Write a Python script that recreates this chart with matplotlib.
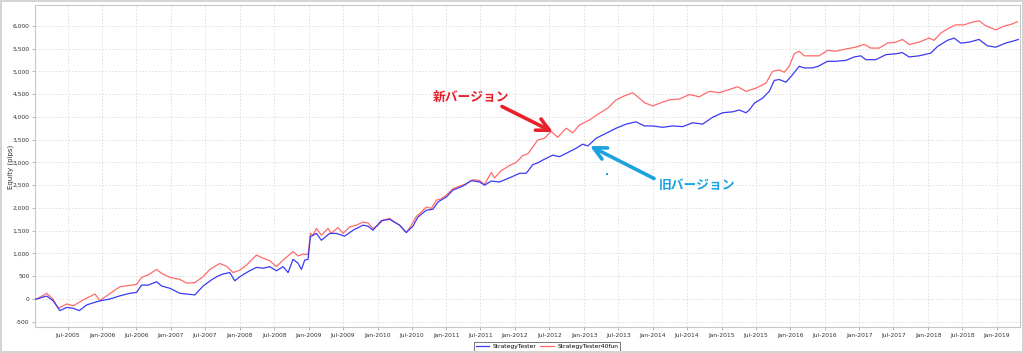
import datetime as dt
import matplotlib
matplotlib.use("Agg")
import matplotlib.pyplot as plt
import matplotlib.dates as mdates
from matplotlib.ticker import FuncFormatter, MultipleLocator
from matplotlib.patches import Rectangle

# ---- data (decimal year, equity in pips) ----
old_years = [2005.000, 2005.048, 2005.193, 2005.284, 2005.386, 2005.483, 2005.579, 2005.666, 2005.774,
             2005.919, 2005.991, 2006.112, 2006.257, 2006.402, 2006.499, 2006.572, 2006.668, 2006.790,
             2006.862, 2006.983, 2007.128, 2007.225, 2007.345, 2007.466, 2007.587, 2007.683, 2007.756,
             2007.853, 2007.926, 2007.999, 2008.119, 2008.241, 2008.337, 2008.434, 2008.531, 2008.627,
             2008.700, 2008.772, 2008.845, 2008.894, 2008.942, 2008.990, 2009.025, 2009.112, 2009.184,
             2009.305, 2009.402, 2009.522, 2009.643, 2009.788, 2009.861, 2009.933, 2010.055, 2010.176,
             2010.321, 2010.418, 2010.514, 2010.587, 2010.708, 2010.804, 2010.877, 2010.999, 2011.094,
             2011.240, 2011.361, 2011.482, 2011.555, 2011.652, 2011.772, 2011.917, 2012.063, 2012.160,
             2012.255, 2012.328, 2012.400, 2012.546, 2012.643, 2012.788, 2012.885, 2012.981, 2013.054,
             2013.176, 2013.321, 2013.466, 2013.611, 2013.756, 2013.877, 2013.997, 2014.142, 2014.287,
             2014.432, 2014.578, 2014.723, 2014.868, 2015.013, 2015.158, 2015.255, 2015.353, 2015.401,
             2015.474, 2015.594, 2015.691, 2015.764, 2015.836, 2015.933, 2016.029, 2016.126, 2016.199,
             2016.319, 2016.402, 2016.537, 2016.659, 2016.804, 2016.925, 2017.022, 2017.094, 2017.239,
             2017.384, 2017.530, 2017.626, 2017.723, 2017.868, 2018.038, 2018.135, 2018.280, 2018.377,
             2018.473, 2018.594, 2018.739, 2018.859, 2018.981, 2019.126, 2019.271, 2019.309]
old_equity = [0, 0, 65, -35, -255, -185, -205, -255, -130,
              -60, -35, 0, 70, 125, 145, 305, 305, 380,
              285, 235, 125, 110, 90, 285, 420, 505, 550,
              580, 400, 490, 600, 695, 675, 710, 620, 710,
              580, 870, 785, 650, 855, 870, 1370, 1440, 1290,
              1440, 1440, 1380, 1510, 1620, 1600, 1510, 1720, 1750,
              1620, 1460, 1600, 1800, 1950, 1970, 2130, 2240, 2390,
              2480, 2600, 2570, 2500, 2590, 2570, 2660, 2760, 2760,
              2950, 2990, 3050, 3160, 3125, 3235, 3310, 3400, 3360,
              3530, 3640, 3750, 3840, 3890, 3800, 3800, 3770, 3800,
              3785, 3870, 3840, 3990, 4090, 4110, 4150, 4090, 4150,
              4300, 4410, 4560, 4800, 4820, 4760, 4925, 5110, 5075,
              5075, 5110, 5220, 5220, 5240, 5315, 5340, 5255, 5255,
              5365, 5385, 5410, 5315, 5340, 5400, 5545, 5680, 5730,
              5620, 5640, 5700, 5560, 5530, 5620, 5680, 5700]

new_years = [2005.000, 2005.048, 2005.193, 2005.284, 2005.361, 2005.483, 2005.579, 2005.724, 2005.894,
             2005.967, 2006.112, 2006.257, 2006.402, 2006.499, 2006.572, 2006.668, 2006.790, 2006.862,
             2006.983, 2007.128, 2007.225, 2007.345, 2007.466, 2007.563, 2007.708, 2007.806, 2007.901,
             2007.999, 2008.096, 2008.241, 2008.337, 2008.434, 2008.531, 2008.627, 2008.772, 2008.845,
             2008.917, 2008.990, 2009.025, 2009.063, 2009.112, 2009.184, 2009.280, 2009.329, 2009.425,
             2009.498, 2009.595, 2009.692, 2009.788, 2009.861, 2009.933, 2010.006, 2010.078, 2010.176,
             2010.248, 2010.321, 2010.418, 2010.491, 2010.563, 2010.636, 2010.708, 2010.781, 2010.853,
             2010.926, 2010.999, 2011.094, 2011.192, 2011.289, 2011.385, 2011.482, 2011.555, 2011.652,
             2011.700, 2011.797, 2011.917, 2012.015, 2012.110, 2012.183, 2012.255, 2012.328, 2012.425,
             2012.522, 2012.618, 2012.740, 2012.836, 2012.933, 2013.078, 2013.224, 2013.344, 2013.466,
             2013.586, 2013.707, 2013.780, 2013.877, 2013.997, 2014.119, 2014.240, 2014.385, 2014.530,
             2014.675, 2014.820, 2014.965, 2015.086, 2015.231, 2015.353, 2015.498, 2015.643, 2015.739,
             2015.836, 2015.909, 2015.981, 2016.054, 2016.126, 2016.199, 2016.319, 2016.416, 2016.537,
             2016.659, 2016.804, 2016.949, 2017.070, 2017.167, 2017.287, 2017.408, 2017.530, 2017.626,
             2017.723, 2017.868, 2018.013, 2018.086, 2018.183, 2018.304, 2018.401, 2018.521, 2018.618,
             2018.739, 2018.836, 2018.981, 2019.102, 2019.222, 2019.295]
new_equity = [0, 0, 125, 0, -205, -110, -150, -20, 110,
              -35, 120, 270, 300, 320, 475, 530, 650, 565,
              475, 430, 350, 360, 490, 650, 780, 720, 580,
              635, 745, 965, 895, 840, 710, 855, 1040, 945,
              985, 980, 1440, 1400, 1550, 1400, 1550, 1440, 1570,
              1440, 1585, 1620, 1690, 1670, 1550, 1620, 1730, 1770,
              1690, 1620, 1460, 1620, 1810, 1910, 2020, 1990, 2170,
              2200, 2280, 2420, 2480, 2530, 2620, 2600, 2515, 2780,
              2660, 2820, 2930, 3000, 3150, 3190, 3340, 3490, 3530,
              3680, 3550, 3750, 3650, 3820, 3930, 4080, 4190, 4375,
              4460, 4530, 4440, 4310, 4240, 4310, 4375, 4390, 4490,
              4440, 4560, 4530, 4590, 4660, 4560, 4630, 4740, 5000,
              5030, 4980, 5110, 5385, 5440, 5340, 5340, 5340, 5460,
              5440, 5490, 5530, 5590, 5510, 5510, 5620, 5640, 5700,
              5590, 5640, 5730, 5680, 5840, 5950, 6020, 6020, 6070,
              6110, 6000, 5910, 5990, 6040, 6090]

series_names = ["StrategyTester", "StrategyTester40fun"]
y_label = "Equity (pips)"
new_label = "新バージョン"
old_label = "旧バージョン"


def to_date(y):
    return dt.datetime(2005, 1, 1) + dt.timedelta(days=(y - 2005) * 365.25)


plt.rcParams['font.family'] = ['DejaVu Sans']
fig = plt.figure(figsize=(10.24, 3.53), dpi=100)
fig.patch.set_facecolor('white')

# outer panel frame
for (x0, y0, w, h) in [(0, 0.993, 1, 0.007), (0, 0, 1, 0.006), (0, 0, 0.002, 1), (0.998, 0, 0.002, 1)]:
    fig.add_artist(Rectangle((x0, y0), w, h, transform=fig.transFigure,
                             facecolor='#d4d4d4', edgecolor='none'))

ax = fig.add_axes([35 / 1024, 1 - 327 / 353, 985 / 1024, 322 / 353])
ax.set_facecolor('white')

od = [to_date(y) for y in old_years]
nd = [to_date(y) for y in new_years]
ax.plot(od, old_equity, color='#3a3af5', lw=0.9, label=series_names[0], zorder=3)
ax.plot(nd, new_equity, color='#ff6b6b', lw=0.9, label=series_names[1], zorder=2)

ax.set_xlim(to_date(2005.023), to_date(2019.334))
ax.set_ylim(-615, 6456)
ax.yaxis.set_major_locator(MultipleLocator(500))
ax.yaxis.set_major_formatter(FuncFormatter(lambda v, p: f"{int(v):,}"))
ax.xaxis.set_major_locator(mdates.MonthLocator(bymonth=[1, 7]))
ax.xaxis.set_major_formatter(mdates.DateFormatter('%b-%Y'))

ax.grid(True, color='#dcdcdc', linestyle=(0, (2, 2)), lw=0.6)
ax.set_axisbelow(True)
for s in ax.spines.values():
    s.set_color('#c8c8c8')
    s.set_linewidth(0.8)
ax.tick_params(axis='both', labelsize=4.3, colors='#333333', length=2, width=0.5, pad=2)
ax.tick_params(axis='both', color='#999999')

fig.text(11 / 1024, 1 - 167 / 353, y_label, fontsize=5, color='#333333', rotation=90,
         ha='center', va='center')

leg = ax.legend(loc='upper center', bbox_to_anchor=(0.52, -0.036), ncol=2, fontsize=4.3,
                frameon=True, fancybox=False, edgecolor='#555555', handlelength=2.2,
                handletextpad=0.6, columnspacing=0.6, borderpad=0.35)
leg.get_frame().set_linewidth(0.7)
for line in leg.get_lines():
    line.set_linewidth(0.9)

# annotations
jp = ['Noto Sans CJK JP', 'DejaVu Sans']
red = '#e8202a'
cyan = '#1aa3e0'

fig.text(471 / 1024, 1 - 97 / 353, new_label, fontsize=9.2, fontweight='bold', color=red,
         family=jp, ha='center', va='center')
fig.text(697 / 1024, 1 - 186 / 353, old_label, fontsize=9.2, fontweight='bold', color=cyan,
         family=jp, ha='center', va='center')

ax.annotate('', xy=(553 / 1024, 1 - 132 / 353), xytext=(502 / 1024, 1 - 106.5 / 353),
            xycoords='figure fraction', textcoords='figure fraction',
            arrowprops=dict(arrowstyle='->,head_length=0.9,head_width=0.45', color=red, lw=2.6,
                            shrinkA=0, shrinkB=0))
ax.annotate('', xy=(590 / 1024, 1 - 146 / 353), xytext=(654 / 1024, 1 - 178.5 / 353),
            xycoords='figure fraction', textcoords='figure fraction',
            arrowprops=dict(arrowstyle='->,head_length=0.9,head_width=0.45', color=cyan, lw=2.6,
                            shrinkA=0, shrinkB=0))
fig.add_artist(Rectangle((606 / 1024, 1 - 175 / 353), 2 / 1024, 2 / 353, transform=fig.transFigure,
                         facecolor=cyan, edgecolor='none'))

fig.savefig('out.png', dpi=100)
